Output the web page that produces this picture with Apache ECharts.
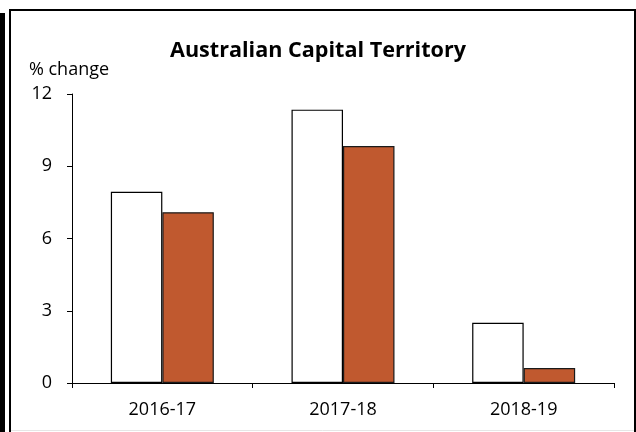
<!DOCTYPE html>
<html><head><meta charset="utf-8">
<script src="https://cdn.jsdelivr.net/npm/echarts@6/dist/echarts.min.js"></script>
<style>html,body{margin:0;padding:0;background:#fff}#c{width:636px;height:432px}</style>
</head><body><div id="c"></div>
<script>
var categories = ['2016-17', '2017-18', '2018-19'];
var seriesA = [7.94, 11.35, 2.5];
var seriesB = [7.09, 9.84, 0.62];
var yTicks = [0, 3, 6, 9, 12];

var chart = echarts.init(document.getElementById('c'), null, {renderer: 'canvas'});
var font = 'Open Sans';
chart.setOption({
  animation: false,
  backgroundColor: '#fff',
  title: {
    text: 'Australian Capital Territory',
    left: 'center',
    top: 35,
    textStyle: {fontFamily: font, fontWeight: 'bold', fontSize: 21.6, color: '#000'}
  },
  grid: {left: 72, right: 22, top: 94, bottom: 49, containLabel: false},
  xAxis: {
    type: 'category',
    data: categories,
    axisLine: {lineStyle: {color: '#000', width: 1}},
    axisTick: {show: true, length: 5, lineStyle: {color: '#000'}},
    axisLabel: {fontFamily: font, fontSize: 18, color: '#000', margin: 18}
  },
  yAxis: {
    type: 'value',
    min: yTicks[0], max: yTicks[yTicks.length - 1], interval: 3,
    name: '% change',
    nameLocation: 'end',
    nameGap: 24,
    nameTextStyle: {fontFamily: font, fontSize: 18, color: '#000', align: 'center', verticalAlign: 'middle', padding: [0, 0, 0, -6]},
    axisLine: {show: true, lineStyle: {color: '#000', width: 1}},
    axisTick: {show: true, length: 5, lineStyle: {color: '#000'}},
    splitLine: {show: false},
    axisLabel: {fontFamily: font, fontSize: 18, color: '#000', margin: 20}
  },
  series: [
    {type: 'bar', data: seriesA, barGap: '0%', barCategoryGap: '43%',
     itemStyle: {color: '#ffffff', borderColor: '#000', borderWidth: 1.2}},
    {type: 'bar', data: seriesB, barGap: '0%', barCategoryGap: '43%',
     itemStyle: {color: '#C0592F', borderColor: '#1a1a1a', borderWidth: 1.2}}
  ],
  graphic: [
    {type: 'rect', shape: {x: 0, y: 13, width: 5, height: 420}, style: {fill: '#000'}},
    {type: 'rect', shape: {x: 10, y: 10, width: 625, height: 440}, style: {fill: 'none', stroke: '#000', lineWidth: 2}},
    {type: 'line', shape: {x1: 11, y1: 430.5, x2: 634, y2: 430.5}, style: {stroke: '#e6e6e6', lineWidth: 1}}
  ]
});
</script></body></html>
